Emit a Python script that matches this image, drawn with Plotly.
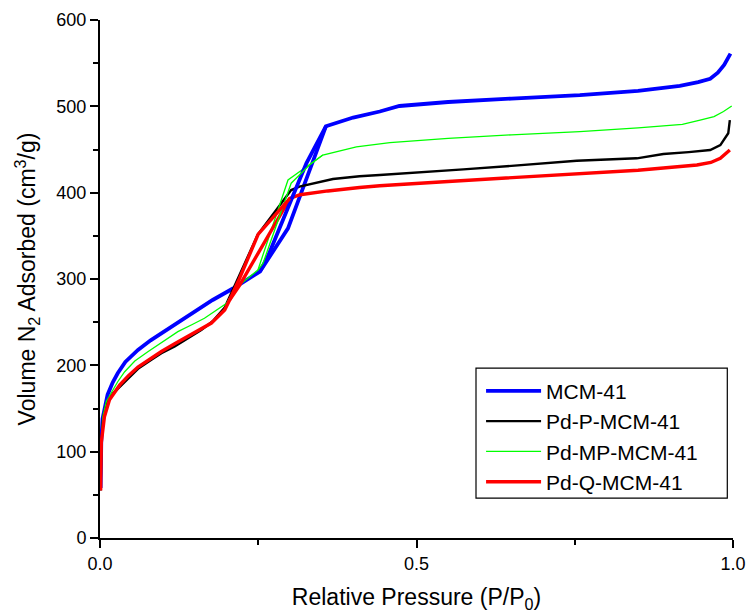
import plotly.graph_objects as go

# N2 adsorption isotherms: relative pressure (P/P0) vs adsorbed volume (cm3/g)
names = ["MCM-41", "Pd-P-MCM-41", "Pd-MP-MCM-41", "Pd-Q-MCM-41"]
colors = ["#0000ff", "#000000", "#00ff00", "#ff0000"]
widths = [3.8, 2.4, 1.3, 3.4]

# adsorption branches
mcm_x = [0.001, 0.002, 0.004, 0.008, 0.012, 0.02, 0.028, 0.04, 0.06, 0.08, 0.097,
         0.12, 0.144, 0.178, 0.21, 0.2526, 0.297, 0.357, 0.40, 0.442, 0.473, 0.55,
         0.65, 0.758, 0.85, 0.916, 0.945, 0.964, 0.976, 0.986, 0.996]
mcm_y = [58, 112, 138, 154, 166, 180, 190.8, 204, 217.8, 229, 237,
         248, 260.3, 275.7, 289, 308.5, 358.7, 477, 487, 494, 500.4, 505,
         509, 513, 518, 523.6, 528, 532, 539, 548, 561]

pdp_x = [0.001, 0.002, 0.005, 0.01, 0.02, 0.031, 0.045, 0.06, 0.08, 0.097, 0.118,
         0.139, 0.16, 0.178, 0.197, 0.215, 0.249, 0.302, 0.315, 0.368, 0.41, 0.442,
         0.5, 0.574, 0.65, 0.753, 0.848, 0.89, 0.93, 0.964, 0.98, 0.9925, 0.995]
pdp_y = [55, 108, 140, 155, 167, 175, 186, 196, 206, 214, 222,
         231, 241, 251, 267, 296, 351, 403, 407, 415.8, 419, 420.5,
         423, 427, 431, 437, 439.8, 444.8, 447, 449.4, 455, 468.8, 484]

pdmp_x = [0.001, 0.002, 0.0044, 0.01, 0.0177, 0.028, 0.039, 0.055, 0.0756, 0.1,
          0.123, 0.145, 0.165, 0.2, 0.215, 0.2495, 0.297, 0.352, 0.405, 0.458,
          0.55, 0.65, 0.758, 0.85, 0.92, 0.948, 0.97, 0.985, 0.998]
pdmp_y = [56, 106, 140.5, 158, 168, 181, 192.6, 205, 215.8, 228,
          239, 247, 254.5, 272, 290, 310.4, 414.7, 443.6, 453, 458,
          463, 467, 470.6, 475, 479, 484, 488, 494, 500.4]

pdq_x = [0.001, 0.002, 0.007, 0.015, 0.031, 0.045, 0.06, 0.08, 0.097, 0.118, 0.139,
         0.16, 0.176, 0.197, 0.205, 0.22, 0.25, 0.3, 0.316, 0.36, 0.41, 0.442,
         0.55, 0.65, 0.758, 0.85, 0.943, 0.965, 0.98, 0.995]
pdq_y = [55, 110, 140.5, 160, 177, 188, 198, 208, 216, 225, 234,
         242, 249, 264, 276, 292, 330, 393.5, 397.6, 402, 406, 408,
         413, 417.5, 422.4, 426, 432, 435, 439.8, 449.4]

# desorption branches closing the hysteresis loops
mcm_dx = [0.357, 0.326, 0.265, 0.2526]
mcm_dy = [477, 434, 325.8, 308.5]
pdmp_dx = [0.352, 0.331, 0.302, 0.2574, 0.2495]
pdmp_dy = [443.6, 432, 411, 318, 310.4]
pdq_dx = [0.3, 0.25, 0.22, 0.205]
pdq_dy = [393.5, 352, 300, 276]

ads = [(mcm_x, mcm_y), (pdp_x, pdp_y), (pdmp_x, pdmp_y), (pdq_x, pdq_y)]
des = [(mcm_dx, mcm_dy), None, (pdmp_dx, pdmp_dy), (pdq_dx, pdq_dy)]

font_family = "Liberation Sans, Arial, sans-serif"

fig = go.Figure()
for i, name in enumerate(names):
    fig.add_trace(go.Scatter(
        x=ads[i][0], y=ads[i][1], mode="lines", name=name, legendgroup=name,
        line=dict(color=colors[i], width=widths[i]),
    ))
for i, name in enumerate(names):
    if des[i] is None:
        continue
    fig.add_trace(go.Scatter(
        x=des[i][0], y=des[i][1], mode="lines", name=name, legendgroup=name,
        showlegend=False, line=dict(color=colors[i], width=widths[i]),
    ))

axis_common = dict(
    showline=True, linecolor="black", linewidth=2, showgrid=False, zeroline=False,
    ticks="outside", ticklen=8, tickwidth=2, tickcolor="black",
    tickfont=dict(family=font_family, size=18, color="black"),
)

# legend frame (paper coordinates of the plot area)
fig.add_shape(type="rect", xref="paper", yref="paper",
              x0=0.594, x1=0.991, y0=0.077, y1=0.328,
              line=dict(color="black", width=1.2), fillcolor="white", layer="above")

fig.update_layout(
    width=748, height=615,
    margin=dict(l=100, r=15, t=20, b=77),
    plot_bgcolor="white", paper_bgcolor="white",
    font=dict(family=font_family, color="black"),
    xaxis=dict(
        range=[0, 1], dtick=0.5, tickformat=".1f", automargin=False,
        minor=dict(ticks="outside", ticklen=5, tickwidth=2, tickcolor="black", dtick=0.25),
        title=dict(text="Relative Pressure (P/P<sub>0</sub>)",
                   font=dict(family=font_family, size=23), standoff=16),
        **axis_common,
    ),
    yaxis=dict(
        range=[0, 600], dtick=100, automargin=False,
        minor=dict(ticks="outside", ticklen=5, tickwidth=2, tickcolor="black", dtick=50),
        title=dict(text="Volume N<sub>2</sub> Adsorbed (cm<sup>3</sup>/g)",
                   font=dict(family=font_family, size=23), standoff=14),
        **axis_common,
    ),
    legend=dict(
        x=0.602, y=0.323, xanchor="left", yanchor="top",
        borderwidth=0, bgcolor="rgba(0,0,0,0)",
        font=dict(family=font_family, size=21, color="black"),
        tracegroupgap=0, itemwidth=55,
    ),
)

fig.write_html("out.html")
